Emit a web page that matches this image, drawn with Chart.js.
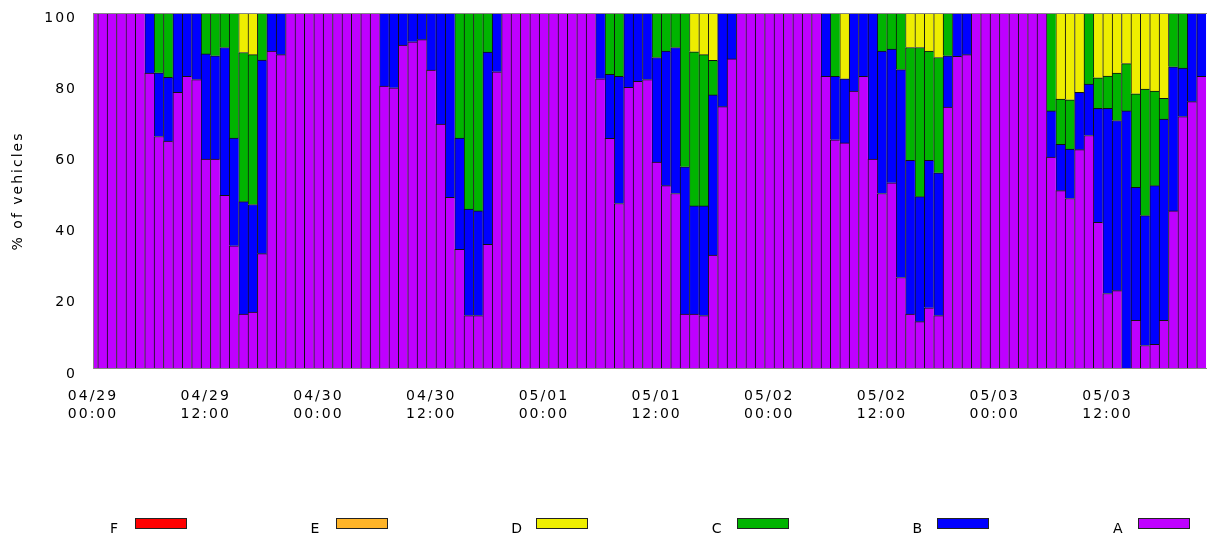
<!DOCTYPE html>
<html>
<head>
<meta charset="utf-8">
<script src="https://cdn.jsdelivr.net/npm/chart.js@4/dist/chart.umd.min.js"></script>
<style>
  body { margin: 0; background: #fff; }
  #wrap { position: relative; width: 1207px; height: 536px; font-family: "DejaVu Sans", sans-serif; }
  #legend .box { position: absolute; width: 52px; height: 11px; border: 1px solid #222; box-sizing: border-box; }
  #legend .lbl { position: absolute; font-size: 14px; color: #000; line-height: 14px; }
</style>
</head>
<body>
<div id="wrap">
  <canvas id="myChart" width="1207" height="536"></canvas>
  <div id="legend"></div>
</div>
<script>
// one bar per hour, 04/29 00:00 .. 05/03 22:00, rows of 12 hours
let valuesA = [
  100, 100, 100, 100, 100, 100, 83.1, 65.3, 64.0, 77.7, 82.2, 81.3,
  59.0, 59.0, 48.8, 34.6, 15.4, 16.0, 32.4, 89.3, 88.3, 100, 100, 100,
  100, 100, 100, 100, 100, 100, 100, 79.5, 79.0, 91.0, 91.9, 92.5,
  84.0, 68.8, 48.2, 33.6, 15.0, 15.0, 35.0, 83.5, 100, 100, 100, 100,
  100, 100, 100, 100, 100, 100, 81.5, 64.8, 46.5, 79.1, 80.8, 81.3,
  58.1, 51.5, 49.3, 15.4, 15.4, 15.0, 32.0, 73.7, 87.1, 100, 100, 100,
  100, 100, 100, 100, 100, 100, 82.2, 64.4, 63.5, 78.1, 82.2, 59.0,
  49.3, 52.3, 25.7, 15.4, 13.3, 17.2, 15.0, 73.6, 87.8, 88.3, 100, 100,
  100, 100, 100, 100, 100, 100, 59.5, 50.1, 47.9, 61.6, 65.6, 41.2,
  21.2, 22.0, 0, 13.7, 6.6, 6.9, 13.7, 44.4, 70.9, 75.1, 82.2
];
let valuesB = [
  0, 0, 0, 0, 0, 0, 16.9, 17.9, 17.9, 22.3, 17.8, 18.7,
  29.5, 29.0, 41.5, 30.3, 31.6, 30.2, 54.4, 10.7, 11.7, 0, 0, 0,
  0, 0, 0, 0, 0, 0, 0, 20.5, 21.0, 9.0, 8.1, 7.5,
  16.0, 31.2, 51.8, 31.3, 29.9, 29.4, 54.0, 16.5, 0, 0, 0, 0,
  0, 0, 0, 0, 0, 0, 18.5, 18.0, 35.7, 20.9, 19.2, 18.7,
  29.4, 37.8, 41.0, 41.4, 30.4, 30.8, 45.0, 26.3, 12.9, 0, 0, 0,
  0, 0, 0, 0, 0, 0, 17.8, 17.8, 18.0, 21.9, 17.8, 41.0,
  40.0, 37.6, 58.4, 43.2, 35.1, 41.4, 40.1, 14.4, 12.2, 11.7, 0, 0,
  0, 0, 0, 0, 0, 0, 13.0, 13.0, 13.9, 16.1, 14.4, 32.0,
  52.0, 47.8, 72.5, 37.3, 36.5, 44.6, 56.5, 40.5, 13.6, 24.9, 17.8
];
let valuesC = [
  0, 0, 0, 0, 0, 0, 0, 16.8, 18.1, 0, 0, 0,
  11.5, 12.0, 9.7, 35.1, 41.9, 42.1, 13.2, 0, 0, 0, 0, 0,
  0, 0, 0, 0, 0, 0, 0, 0, 0, 0, 0, 0,
  0, 0, 0, 35.1, 55.1, 55.6, 11.0, 0, 0, 0, 0, 0,
  0, 0, 0, 0, 0, 0, 0, 17.2, 17.8, 0, 0, 0,
  12.5, 10.7, 9.7, 43.2, 43.3, 42.5, 9.7, 0, 0, 0, 0, 0,
  0, 0, 0, 0, 0, 0, 0, 17.8, 0, 0, 0, 0,
  10.7, 10.1, 15.9, 31.7, 41.9, 30.7, 32.4, 12.0, 0, 0, 0, 0,
  0, 0, 0, 0, 0, 0, 27.5, 12.7, 13.8, 0, 20.0, 8.6,
  9.1, 13.3, 13.3, 26.3, 35.5, 26.6, 5.8, 15.1, 15.5, 0, 0
];
let valuesD = [
  0, 0, 0, 0, 0, 0, 0, 0, 0, 0, 0, 0,
  0, 0, 0, 0, 11.1, 11.7, 0, 0, 0, 0, 0, 0,
  0, 0, 0, 0, 0, 0, 0, 0, 0, 0, 0, 0,
  0, 0, 0, 0, 0, 0, 0, 0, 0, 0, 0, 0,
  0, 0, 0, 0, 0, 0, 0, 0, 0, 0, 0, 0,
  0, 0, 0, 0, 10.9, 11.7, 13.3, 0, 0, 0, 0, 0,
  0, 0, 0, 0, 0, 0, 0, 0, 18.5, 0, 0, 0,
  0, 0, 0, 9.7, 9.7, 10.7, 12.5, 0, 0, 0, 0, 0,
  0, 0, 0, 0, 0, 0, 0, 24.2, 24.4, 22.3, 0, 18.2,
  17.7, 16.9, 14.2, 22.7, 21.4, 21.9, 24.0, 0, 0, 0, 0
];
// E and F are in the legend but have no visible bars
let valuesE = [];
let valuesF = [];

let seriesNames = ['A', 'B', 'C', 'D', 'E', 'F'];
let seriesColors = ['#BF00FF', '#0000FF', '#00B400', '#EEEE00', '#FFB428', '#FF0000'];

let tickHours = [0, 12, 24, 36, 48, 60, 72, 84, 96, 108];
let tickLabels = [
  ['04/29', '00:00'], ['04/29', '12:00'], ['04/30', '00:00'], ['04/30', '12:00'], ['05/01', '00:00'],
  ['05/01', '12:00'], ['05/02', '00:00'], ['05/02', '12:00'], ['05/03', '00:00'], ['05/03', '12:00']
];

function toPoints(values) {
  return values.map(function (v, i) { return { x: i, y: v }; });
}

let allValues = [valuesA, valuesB, valuesC, valuesD, valuesE, valuesF];
let datasets = allValues.map(function (values, i) {
  return {
    label: seriesNames[i],
    data: toPoints(values),
    backgroundColor: seriesColors[i],
    borderColor: '#111',
    borderWidth: { left: 1, right: 0, top: 1, bottom: 0 },
    borderSkipped: false,
    barPercentage: 1,
    categoryPercentage: 1
  };
});

// gray frame round the plot, wider letters for the axis text
let frame = {
  id: 'frame',
  beforeDraw(chart) {
    chart.ctx.letterSpacing = '2px';
  },
  afterDatasetsDraw(chart) {
    let a = chart.chartArea;
    let ctx = chart.ctx;
    ctx.save();
    ctx.strokeStyle = '#888';
    ctx.lineWidth = 1;
    ctx.strokeRect(a.left + 0.5, a.top + 0.5, a.right - a.left, a.bottom - a.top - 1);
    ctx.restore();
  }
};

let font = { family: 'DejaVu Sans', size: 14 };

let myChart = new Chart(document.getElementById('myChart'), {
  type: 'bar',
  data: { datasets: datasets },
  plugins: [frame],
  options: {
    responsive: false,
    animation: false,
    layout: { padding: { top: 13, left: 0, right: 0, bottom: 0 } },
    plugins: { legend: { display: false }, tooltip: { enabled: false } },
    scales: {
      x: {
        type: 'linear',
        stacked: true,
        min: 0,
        max: 118.6,
        offset: false,
        grid: { display: false, drawTicks: false },
        border: { display: false },
        ticks: {
          autoSkip: false,
          maxRotation: 0,
          padding: 18,
          color: '#000',
          font: { family: 'DejaVu Sans', size: 14, lineHeight: 1.3 },
          callback: function (value) {
            let i = tickHours.indexOf(value);
            return i >= 0 ? tickLabels[i] : '';
          }
        },
        afterBuildTicks: function (scale) {
          scale.ticks = tickHours.map(function (h) { return { value: h }; });
        },
        afterFit: function (scale) {
          scale.height = 167;
          scale.paddingLeft = 0;
          scale.paddingRight = 0;
        }
      },
      y: {
        stacked: true,
        min: 0,
        max: 100,
        grid: { display: false, drawTicks: false },
        border: { display: false },
        ticks: { stepSize: 20, padding: 16, labelOffset: 5, color: '#000', font: font },
        title: { display: true, text: '% of vehicles', color: '#000', font: font, padding: { top: 10, bottom: 0 } },
        afterFit: function (scale) {
          scale.width = 93;
          scale.paddingTop = 0;
          scale.paddingBottom = 0;
        }
      }
    }
  }
});

// legend drawn below the chart, F first
let legend = document.getElementById('legend');
for (let j = 0; j < 6; j++) {
  let s = 5 - j;
  let left = 135 + j * 200.6;
  let box = document.createElement('div');
  box.className = 'box';
  box.style.left = left + 'px';
  box.style.top = '518px';
  box.style.background = seriesColors[s];
  legend.appendChild(box);
  let lbl = document.createElement('div');
  lbl.className = 'lbl';
  lbl.textContent = seriesNames[s];
  lbl.style.left = (left - 25) + 'px';
  lbl.style.top = '521px';
  legend.appendChild(lbl);
}
</script>
</body>
</html>
